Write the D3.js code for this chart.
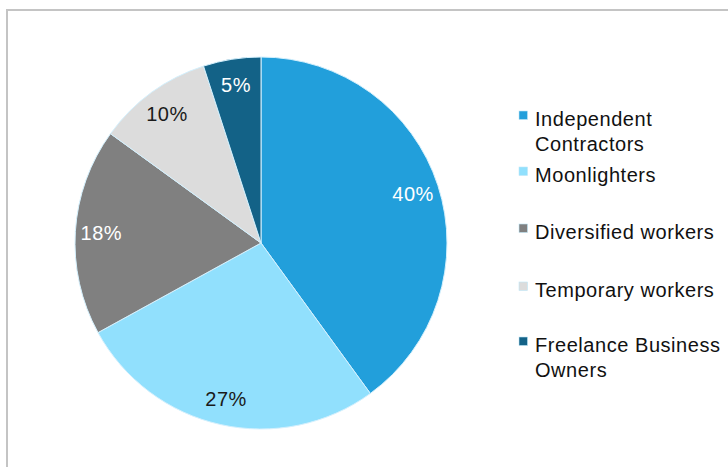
<!DOCTYPE html>
<html>
<head>
<meta charset="utf-8">
<script src="https://cdn.jsdelivr.net/npm/d3@7"></script>
<style>
  html, body { margin: 0; padding: 0; background: #fff; }
  svg { display: block; font-family: "Liberation Sans", Arial, sans-serif; }
</style>
</head>
<body>
<svg id="chart" width="728" height="467"></svg>
<script>
// Worker segments, in clockwise order from 12 o'clock
const categories = ["Independent Contractors", "Moonlighters", "Diversified workers", "Temporary workers", "Freelance Business Owners"];
const shares = [40, 27, 18, 10, 5];
const sliceColors = ["#229fdb", "#91e0fd", "#808080", "#dcdcdc", "#136287"];
const labelColors = ["#ffffff", "#1a1a1a", "#ffffff", "#1a1a1a", "#ffffff"];
// Legend text, wrapped as displayed
const legendLines = [["Independent", "Contractors"], ["Moonlighters"], ["Diversified workers"], ["Temporary workers"], ["Freelance Business", "Owners"]];

const svg = d3.select("#chart");

// Frame
svg.append("path")
  .attr("d", "M7,467 V10 H728")
  .attr("fill", "none")
  .attr("stroke", "#c4c4c4")
  .attr("stroke-width", 2);

const cx = 261, cy = 243, R = 186;
const data = categories.map((c, i) => ({ name: c, value: shares[i], i }));

const pie = d3.pie().value(d => d.value).sort(null);
const arc = d3.arc().innerRadius(0).outerRadius(R);
const labelArc = d3.arc().innerRadius(R * 0.86).outerRadius(R * 0.86);

const g = svg.append("g").attr("transform", `translate(${cx},${cy})`);
const arcs = pie(data);

g.selectAll("path.slice")
  .data(arcs)
  .join("path")
  .attr("class", "slice")
  .attr("d", arc)
  .attr("fill", d => sliceColors[d.data.i])
  .attr("stroke", "#d4f0fd")
  .attr("stroke-width", 1);

g.selectAll("text.pct")
  .data(arcs)
  .join("text")
  .attr("class", "pct")
  .attr("transform", d => {
    const [x, y] = labelArc.centroid(d);
    return `translate(${x},${y})`;
  })
  .attr("text-anchor", "middle")
  .attr("dy", "0.36em")
  .attr("font-size", 20)
  .attr("letter-spacing", 0.5)
  .attr("fill", d => labelColors[d.data.i])
  .text(d => d.data.value + "%");

// Legend
const legendBaselines = [126, 182, 239, 297, 352];
const lineStep = 24.5;
const lg = svg.append("g");
data.forEach((d, i) => {
  const base = legendBaselines[i];
  lg.append("rect")
    .attr("x", 519).attr("y", base - 15)
    .attr("width", 8.5).attr("height", 8.5)
    .attr("fill", sliceColors[i])
    .attr("stroke", "#bfe6f7").attr("stroke-width", 0.6);
  const t = lg.append("text")
    .attr("x", 535).attr("y", base)
    .attr("font-size", 20)
    .attr("letter-spacing", 0.55)
    .attr("fill", "#111");
  legendLines[i].forEach((ln, k) => {
    t.append("tspan").attr("x", 535).attr("y", base + k * lineStep).text(ln);
  });
});
</script>
</body>
</html>
